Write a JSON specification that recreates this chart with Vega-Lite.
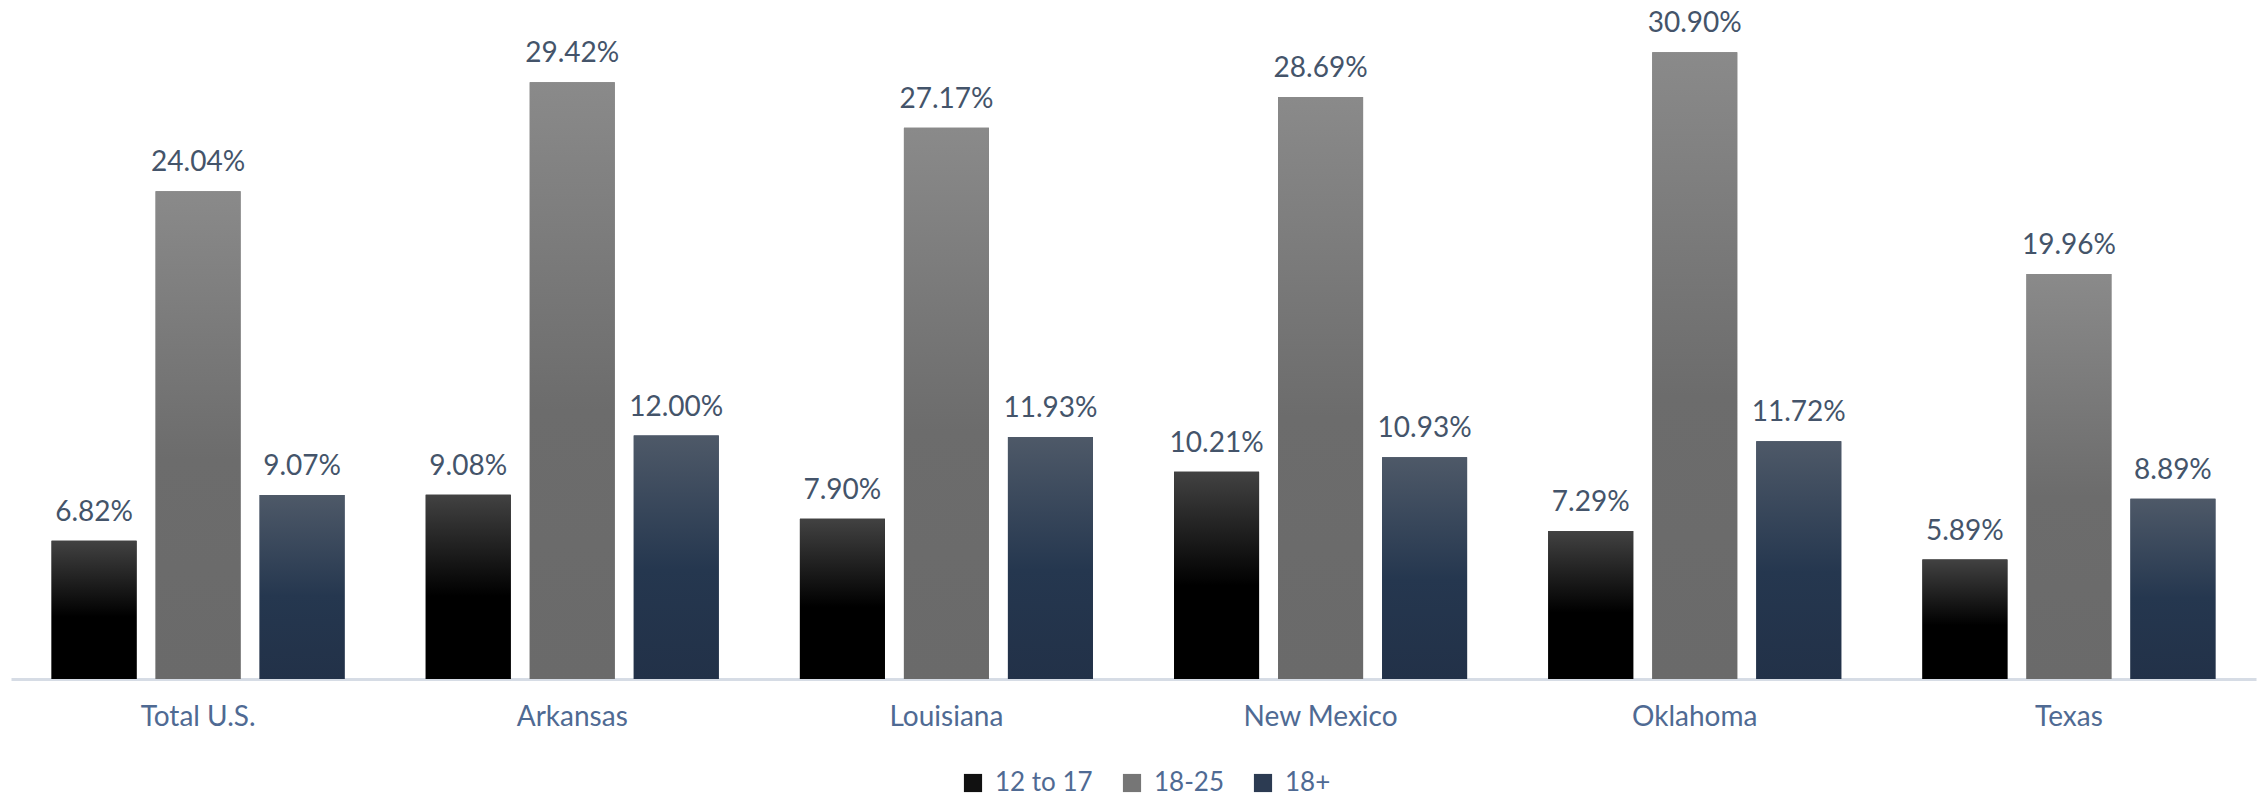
{
  "$schema": "https://vega.github.io/schema/vega-lite/v6.json",
  "width": 2245,
  "height": 679,
  "autosize": "none",
  "padding": {"left": 11, "top": 0, "right": 4, "bottom": 117},
  "background": "white",
  "config": {
    "view": {"stroke": null},
    "font": "Lato"
  },
  "data": {
    "values": [
      {"region": "Total U.S.", "age": "12 to 17", "pct": 0.0682},
      {"region": "Total U.S.", "age": "18-25", "pct": 0.2404},
      {"region": "Total U.S.", "age": "18+", "pct": 0.0907},
      {"region": "Arkansas", "age": "12 to 17", "pct": 0.0908},
      {"region": "Arkansas", "age": "18-25", "pct": 0.2942},
      {"region": "Arkansas", "age": "18+", "pct": 0.1200},
      {"region": "Louisiana", "age": "12 to 17", "pct": 0.0790},
      {"region": "Louisiana", "age": "18-25", "pct": 0.2717},
      {"region": "Louisiana", "age": "18+", "pct": 0.1193},
      {"region": "New Mexico", "age": "12 to 17", "pct": 0.1021},
      {"region": "New Mexico", "age": "18-25", "pct": 0.2869},
      {"region": "New Mexico", "age": "18+", "pct": 0.1093},
      {"region": "Oklahoma", "age": "12 to 17", "pct": 0.0729},
      {"region": "Oklahoma", "age": "18-25", "pct": 0.3090},
      {"region": "Oklahoma", "age": "18+", "pct": 0.1172},
      {"region": "Texas", "age": "12 to 17", "pct": 0.0589},
      {"region": "Texas", "age": "18-25", "pct": 0.1996},
      {"region": "Texas", "age": "18+", "pct": 0.0889}
    ]
  },
  "encoding": {
    "x": {
      "field": "region",
      "type": "nominal",
      "sort": null,
      "scale": {"paddingInner": 0, "paddingOuter": 0},
      "axis": {
        "title": null,
        "labelAngle": 0,
        "labelFontSize": 28,
        "labelColor": "#4f6a93",
        "labelPadding": 24,
        "ticks": false,
        "domainColor": "#d6dce5",
        "domainWidth": 3,
        "labelFont": "Lato"
      }
    },
    "xOffset": {
      "field": "age",
      "type": "nominal",
      "scale": {"domain": ["12 to 17", "18-25", "18+"], "paddingInner": 0.1827, "paddingOuter": 0.39}
    },
    "y": {
      "field": "pct",
      "type": "quantitative",
      "scale": {"domain": [0, 0.3347], "nice": false, "zero": true},
      "axis": null
    }
  },
  "layer": [
    {
      "mark": {"type": "bar"},
      "encoding": {
        "color": {
          "field": "age",
          "type": "nominal",
          "scale": {
            "domain": ["12 to 17", "18-25", "18+"],
            "range": ["#111111", "#767676", "#2c3b52"]
          },
          "legend": {
            "title": null,
            "orient": "none",
            "legendX": 949,
            "legendY": 770,
            "direction": "horizontal",
            "symbolType": "square",
            "symbolSize": 330,
            "symbolStrokeWidth": 0,
            "symbolOpacity": 1,
            "labelFontSize": 26,
            "labelColor": "#4f6a93",
            "labelFont": "Lato",
            "columnPadding": 26,
            "labelOffset": 9,
            "encode": {
              "symbols": {
                "update": {
                  "fill": [
                    {"test": "datum.value === '12 to 17'", "value": {"gradient": "linear", "x1": 0, "y1": 0, "x2": 0, "y2": 1,
                      "stops": [{"offset": 0, "color": "#424242"}, {"offset": 0.55, "color": "#000000"}, {"offset": 1, "color": "#000000"}]}},
                    {"test": "datum.value === '18-25'", "value": {"gradient": "linear", "x1": 0, "y1": 0, "x2": 0, "y2": 1,
                      "stops": [{"offset": 0, "color": "#8a8a8a"}, {"offset": 0.55, "color": "#6c6c6c"}, {"offset": 1, "color": "#6a6a6a"}]}},
                    {"value": {"gradient": "linear", "x1": 0, "y1": 0, "x2": 0, "y2": 1,
                      "stops": [{"offset": 0, "color": "#4e5968"}, {"offset": 0.55, "color": "#25374f"}, {"offset": 1, "color": "#223148"}]}}
                  ]
                }
              }
            }
          }
        }
      }
    },
    {
      "transform": [{"filter": "datum.age === '12 to 17'"}],
      "mark": {"type": "bar", "color": {"gradient": "linear", "x1": 0, "y1": 0, "x2": 0, "y2": 1,
        "stops": [{"offset": 0, "color": "#424242"}, {"offset": 0.55, "color": "#000000"}, {"offset": 1, "color": "#000000"}]}}
    },
    {
      "transform": [{"filter": "datum.age === '18-25'"}],
      "mark": {"type": "bar", "color": {"gradient": "linear", "x1": 0, "y1": 0, "x2": 0, "y2": 1,
        "stops": [{"offset": 0, "color": "#8a8a8a"}, {"offset": 0.55, "color": "#6c6c6c"}, {"offset": 1, "color": "#6a6a6a"}]}}
    },
    {
      "transform": [{"filter": "datum.age === '18+'"}],
      "mark": {"type": "bar", "color": {"gradient": "linear", "x1": 0, "y1": 0, "x2": 0, "y2": 1,
        "stops": [{"offset": 0, "color": "#4e5968"}, {"offset": 0.55, "color": "#25374f"}, {"offset": 1, "color": "#223148"}]}}
    },
    {
      "mark": {"type": "text", "baseline": "alphabetic", "dy": -20, "fontSize": 28, "color": "#44546a", "font": "Lato"},
      "encoding": {
        "text": {"field": "pct", "type": "quantitative", "format": ".2%"}
      }
    }
  ]
}
